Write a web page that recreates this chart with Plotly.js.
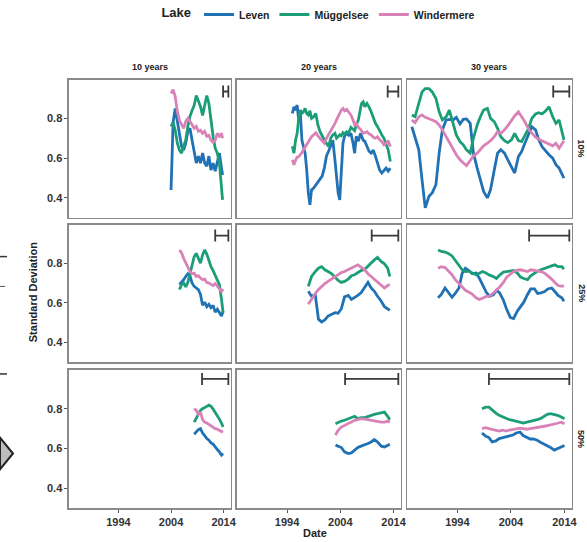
<!DOCTYPE html>
<html>
<head>
<meta charset="utf-8">
<script src="https://cdn.plot.ly/plotly-3.0.1.min.js"></script>
<style>html,body{margin:0;padding:0;background:#fff;}#chart{width:587px;height:542px;}</style>
</head>
<body>
<div id="chart"></div>
<script>
// ---------- DATA ----------
const lakes = ['Leven', 'Müggelsee', 'Windermere'];
const windowLabels = ['10 years', '20 years', '30 years'];
const quantileLabels = ['10%', '25%', '50%'];
const xTickVals = [1994, 2004, 2014];
const yTickVals = [0.4, 0.6, 0.8];
// window length bars (years): rows = quantile, cols = window
const barLength = [[1, 2, 3], [2.5, 5, 7.5], [5, 10, 15]];
const barEnd = 2014.9;
const barLevel = [0.935, 0.94, 0.95];

// Row 10%, 10 years
const date_q10_w10 = [2004.0,2004.4,2004.8,2005.2,2005.6,2006.0,2006.4,2006.8,2007.2,2007.6,2008.0,2008.4,2008.8,2009.2,2009.6,2010.0,2010.4,2010.8,2011.2,2011.6,2012.0,2012.4,2012.8,2013.2,2013.6,2013.8];
const leven_q10_w10 = [0.44,0.78,0.85,0.79,0.71,0.66,0.64,0.675,0.735,0.75,0.69,0.625,0.575,0.61,0.575,0.625,0.575,0.56,0.61,0.54,0.575,0.535,0.59,0.625,0.55,0.515];
const mugg_q10_w10 = [0.76,0.78,0.74,0.675,0.64,0.625,0.66,0.69,0.76,0.81,0.84,0.865,0.915,0.89,0.86,0.815,0.875,0.915,0.875,0.775,0.71,0.65,0.625,0.575,0.475,0.39];
const wind_q10_w10 = [0.925,0.945,0.91,0.835,0.79,0.77,0.75,0.785,0.80,0.785,0.77,0.75,0.76,0.735,0.74,0.725,0.735,0.71,0.715,0.69,0.68,0.69,0.725,0.71,0.725,0.70];

// Row 10%, 20 years
const date_q10_w20 = [1995.0,1995.3,1995.6,1995.9,1996.2,1996.5,1996.8,1997.1,1997.4,1997.7,1998.0,1998.3,1998.6,1999.0,1999.4,1999.8,2000.2,2000.6,2001.0,2001.4,2001.8,2002.2,2002.6,2003.0,2003.3,2003.6,2003.9,2004.2,2004.5,2004.8,2005.2,2005.6,2006.0,2006.4,2006.7,2007.0,2007.4,2007.8,2008.0,2008.3,2008.6,2009.0,2009.4,2009.8,2010.2,2010.6,2011.0,2011.4,2011.8,2012.2,2012.6,2013.0,2013.4];
const leven_q10_w20 = [0.825,0.858,0.842,0.867,0.79,0.825,0.69,0.66,0.625,0.54,0.425,0.365,0.44,0.45,0.465,0.475,0.49,0.51,0.55,0.61,0.635,0.665,0.69,0.59,0.49,0.425,0.39,0.54,0.675,0.71,0.725,0.715,0.725,0.675,0.625,0.71,0.685,0.725,0.71,0.69,0.685,0.66,0.635,0.625,0.64,0.61,0.575,0.54,0.525,0.535,0.55,0.535,0.55];
const mugg_q10_w20 = [0.66,0.625,0.69,0.725,0.80,0.842,0.825,0.833,0.85,0.825,0.817,0.838,0.80,0.808,0.825,0.767,0.733,0.708,0.692,0.675,0.658,0.70,0.717,0.725,0.70,0.708,0.717,0.712,0.728,0.722,0.733,0.728,0.755,0.745,0.738,0.767,0.792,0.85,0.875,0.883,0.858,0.875,0.858,0.833,0.80,0.775,0.758,0.733,0.717,0.70,0.675,0.642,0.583];
const wind_q10_w20 = [0.592,0.567,0.588,0.605,0.608,0.617,0.628,0.642,0.655,0.667,0.675,0.688,0.708,0.717,0.728,0.712,0.70,0.688,0.675,0.70,0.717,0.738,0.758,0.775,0.792,0.808,0.828,0.842,0.85,0.838,0.845,0.833,0.817,0.792,0.767,0.775,0.755,0.745,0.738,0.725,0.728,0.733,0.722,0.717,0.705,0.70,0.708,0.692,0.683,0.667,0.675,0.688,0.658];

// Row 10%, 30 years
const date_q10_w30 = [1985.5,1986.1,1986.8,1987.4,1988.0,1988.7,1989.3,1990.0,1990.6,1991.2,1991.9,1992.5,1993.2,1993.8,1994.5,1995.1,1995.7,1996.4,1997.0,1997.7,1998.3,1998.9,1999.6,2000.2,2000.9,2001.5,2002.1,2002.8,2003.4,2004.1,2004.7,2005.4,2006.0,2006.6,2007.3,2007.9,2008.6,2009.2,2009.8,2010.5,2011.1,2011.8,2012.4,2013.0,2013.9];
const leven_q10_w30 = [0.758,0.708,0.642,0.492,0.35,0.408,0.425,0.467,0.625,0.742,0.792,0.795,0.792,0.805,0.772,0.795,0.797,0.775,0.625,0.55,0.492,0.433,0.40,0.442,0.542,0.625,0.642,0.625,0.592,0.558,0.525,0.608,0.633,0.675,0.725,0.758,0.742,0.692,0.658,0.633,0.617,0.60,0.567,0.55,0.50];
const mugg_q10_w30 = [0.817,0.808,0.875,0.933,0.95,0.95,0.933,0.90,0.833,0.792,0.808,0.842,0.775,0.717,0.683,0.667,0.642,0.625,0.70,0.767,0.808,0.842,0.85,0.80,0.783,0.75,0.708,0.688,0.678,0.692,0.725,0.688,0.683,0.717,0.75,0.80,0.822,0.828,0.822,0.838,0.858,0.808,0.775,0.792,0.692];
const wind_q10_w30 = [0.792,0.778,0.808,0.817,0.805,0.80,0.792,0.783,0.767,0.742,0.708,0.678,0.645,0.617,0.592,0.575,0.562,0.588,0.612,0.625,0.642,0.662,0.675,0.688,0.708,0.733,0.725,0.742,0.762,0.792,0.812,0.833,0.808,0.783,0.745,0.725,0.705,0.695,0.688,0.678,0.672,0.662,0.675,0.65,0.688];

// Row 25%, 10 years
const date_q25_w10 = [2005.6,2006.0,2006.4,2006.8,2007.2,2007.6,2008.0,2008.4,2008.8,2009.2,2009.6,2010.0,2010.4,2010.8,2011.2,2011.6,2012.0,2012.4,2012.8,2013.2,2013.6,2013.9];
const leven_q25_w10 = [0.692,0.703,0.717,0.733,0.747,0.737,0.70,0.683,0.675,0.667,0.642,0.587,0.603,0.58,0.592,0.575,0.587,0.553,0.567,0.547,0.533,0.558];
const mugg_q25_w10 = [0.667,0.692,0.70,0.68,0.703,0.742,0.792,0.833,0.85,0.825,0.80,0.842,0.867,0.847,0.808,0.783,0.763,0.737,0.717,0.692,0.617,0.55];
const wind_q25_w10 = [0.867,0.853,0.825,0.80,0.783,0.758,0.747,0.75,0.733,0.737,0.725,0.717,0.72,0.703,0.70,0.692,0.687,0.697,0.683,0.675,0.658,0.67];

// Row 25%, 20 years
const date_q25_w20 = [1998.0,1998.6,1999.3,1999.9,2000.5,2001.1,2001.7,2002.4,2003.0,2003.6,2004.2,2004.8,2005.5,2006.1,2006.7,2007.3,2007.9,2008.6,2009.2,2009.8,2010.4,2011.0,2011.7,2012.3,2012.9,2013.3];
const leven_q25_w20 = [0.658,0.633,0.642,0.517,0.503,0.513,0.533,0.542,0.55,0.547,0.57,0.63,0.637,0.617,0.625,0.637,0.65,0.68,0.703,0.675,0.658,0.633,0.608,0.58,0.567,0.562];
const mugg_q25_w20 = [0.683,0.733,0.758,0.775,0.783,0.767,0.758,0.747,0.73,0.713,0.703,0.708,0.72,0.737,0.742,0.753,0.763,0.77,0.787,0.803,0.817,0.83,0.808,0.797,0.775,0.733];
const wind_q25_w20 = [0.592,0.62,0.647,0.667,0.683,0.697,0.708,0.72,0.73,0.74,0.753,0.758,0.767,0.775,0.783,0.792,0.78,0.767,0.747,0.733,0.72,0.708,0.692,0.675,0.687,0.692];

// Row 25%, 30 years
const date_q25_w30 = [1990.4,1991.0,1991.7,1992.3,1993.0,1993.6,1994.3,1994.9,1995.5,1996.2,1996.8,1997.5,1998.1,1998.7,1999.4,2000.0,2000.7,2001.3,2001.9,2002.6,2003.2,2003.9,2004.5,2005.2,2005.8,2006.4,2007.1,2007.7,2008.4,2009.0,2009.6,2010.3,2010.9,2011.6,2012.2,2012.8,2013.5,2013.9];
const leven_q25_w30 = [0.625,0.642,0.675,0.653,0.628,0.647,0.675,0.75,0.775,0.762,0.747,0.75,0.725,0.692,0.653,0.633,0.64,0.663,0.65,0.613,0.567,0.525,0.52,0.558,0.58,0.603,0.642,0.67,0.67,0.647,0.65,0.657,0.67,0.675,0.657,0.637,0.625,0.608];
const mugg_q25_w30 = [0.867,0.86,0.857,0.85,0.837,0.813,0.787,0.767,0.758,0.76,0.75,0.742,0.75,0.758,0.75,0.74,0.733,0.723,0.74,0.755,0.758,0.76,0.763,0.75,0.73,0.723,0.717,0.737,0.75,0.76,0.767,0.775,0.783,0.787,0.792,0.783,0.783,0.77];
const wind_q25_w30 = [0.775,0.783,0.778,0.762,0.742,0.717,0.697,0.68,0.663,0.653,0.643,0.625,0.617,0.623,0.632,0.633,0.647,0.663,0.68,0.703,0.73,0.747,0.757,0.765,0.767,0.763,0.758,0.767,0.763,0.758,0.758,0.75,0.737,0.72,0.703,0.687,0.683,0.687];

// Row 50%, 10 years
const date_q50_w10 = [2008.4,2008.8,2009.2,2009.6,2010.0,2010.4,2010.8,2011.2,2011.6,2012.0,2012.4,2012.8,2013.2,2013.6,2013.9];
const leven_q50_w10 = [0.672,0.683,0.695,0.70,0.678,0.665,0.65,0.642,0.628,0.622,0.605,0.595,0.583,0.567,0.575];
const mugg_q50_w10 = [0.733,0.755,0.772,0.792,0.80,0.808,0.812,0.818,0.812,0.798,0.782,0.767,0.748,0.728,0.708];
const wind_q50_w10 = [0.80,0.792,0.772,0.783,0.745,0.733,0.728,0.72,0.712,0.708,0.70,0.698,0.692,0.685,0.688];

// Row 50%, 20 years
const date_q50_w20 = [2003.1,2003.6,2004.2,2004.8,2005.5,2006.1,2006.7,2007.3,2007.9,2008.6,2009.2,2009.8,2010.4,2011.0,2011.7,2012.3,2012.9,2013.3];
const leven_q50_w20 = [0.617,0.612,0.605,0.583,0.575,0.578,0.592,0.605,0.612,0.617,0.625,0.633,0.645,0.633,0.612,0.608,0.617,0.622];
const mugg_q50_w20 = [0.725,0.732,0.738,0.742,0.75,0.755,0.762,0.75,0.755,0.755,0.762,0.767,0.772,0.775,0.778,0.783,0.762,0.745];
const wind_q50_w20 = [0.667,0.692,0.708,0.717,0.725,0.733,0.742,0.745,0.75,0.748,0.745,0.742,0.738,0.738,0.733,0.733,0.738,0.732];

// Row 50%, 30 years
const date_q50_w30 = [1998.6,1999.3,1999.9,2000.5,2001.2,2001.8,2002.5,2003.1,2003.7,2004.4,2005.0,2005.7,2006.3,2007.0,2007.6,2008.2,2008.9,2009.5,2010.2,2010.8,2011.4,2012.1,2012.7,2013.4,2014.0];
const leven_q50_w30 = [0.678,0.662,0.655,0.633,0.638,0.65,0.655,0.658,0.663,0.668,0.678,0.683,0.665,0.655,0.648,0.648,0.642,0.632,0.622,0.615,0.605,0.592,0.598,0.608,0.615];
const mugg_q50_w30 = [0.80,0.808,0.808,0.792,0.778,0.767,0.758,0.75,0.745,0.742,0.738,0.732,0.728,0.733,0.738,0.742,0.745,0.75,0.762,0.772,0.775,0.772,0.767,0.758,0.75];
const wind_q50_w30 = [0.70,0.705,0.70,0.695,0.692,0.688,0.692,0.688,0.693,0.697,0.70,0.702,0.70,0.697,0.70,0.702,0.705,0.708,0.712,0.715,0.72,0.723,0.727,0.732,0.725];

// ---------- STYLE ----------
const lakeColors = ['#2171b5', '#1b9e77', '#d982b8'];
const colDomains = [[0.1175, 0.3935], [0.4037, 0.6831], [0.6934, 0.9744]];
const rowDomains = [[0.6015, 0.8579], [0.3339, 0.5886], [0.0627, 0.3192]];
const xRange = [1984.6, 2015.4];
const yRange = [0.3, 0.995];
const FONT = 'Liberation Sans, Arial, sans-serif';

const panelData = [
  [date_q10_w10, leven_q10_w10, mugg_q10_w10, wind_q10_w10],
  [date_q10_w20, leven_q10_w20, mugg_q10_w20, wind_q10_w20],
  [date_q10_w30, leven_q10_w30, mugg_q10_w30, wind_q10_w30],
  [date_q25_w10, leven_q25_w10, mugg_q25_w10, wind_q25_w10],
  [date_q25_w20, leven_q25_w20, mugg_q25_w20, wind_q25_w20],
  [date_q25_w30, leven_q25_w30, mugg_q25_w30, wind_q25_w30],
  [date_q50_w10, leven_q50_w10, mugg_q50_w10, wind_q50_w10],
  [date_q50_w20, leven_q50_w20, mugg_q50_w20, wind_q50_w20],
  [date_q50_w30, leven_q50_w30, mugg_q50_w30, wind_q50_w30]
];

const traces = [];
const layout = {
  width: 587, height: 542,
  margin: {l: 0, r: 0, t: 0, b: 0},
  paper_bgcolor: '#fff', plot_bgcolor: '#fff',
  font: {family: FONT, color: '#222'},
  showlegend: true,
  legend: {
    orientation: 'h', x: 0.545, xanchor: 'center', y: 1.006, yanchor: 'top',
    font: {family: FONT, size: 10.5, weight: 'bold', color: '#222'},
    title: {text: 'Lake', font: {family: FONT, size: 13, weight: 'bold', color: '#222'}, side: 'left'},
    itemwidth: 30, tracegroupgap: 0
  },
  annotations: [], shapes: []
};

for (let r = 0; r < 3; r++) {
  for (let c = 0; c < 3; c++) {
    const k = r * 3 + c + 1;
    const xa = k === 1 ? 'x' : 'x' + k;
    const ya = k === 1 ? 'y' : 'y' + k;
    const d = panelData[k - 1];
    for (let s = 0; s < 3; s++) {
      traces.push({
        type: 'scatter', mode: 'lines', x: d[0], y: d[s + 1],
        xaxis: xa, yaxis: ya, name: lakes[s], legendgroup: lakes[s],
        showlegend: k === 1,
        line: {color: lakeColors[s], width: 2.8}
      });
    }
    // window length bar
    const L = barLength[r][c];
    traces.push({
      type: 'scatter', mode: 'markers', x: [barEnd - L / 2], y: [barLevel[r]],
      xaxis: xa, yaxis: ya, showlegend: false, hoverinfo: 'skip',
      marker: {size: 1, opacity: 0},
      error_x: {type: 'data', array: [L / 2], symmetric: true, color: '#3a3a3a', thickness: 1.8, width: 6}
    });
    layout['xaxis' + (k === 1 ? '' : k)] = {
      domain: colDomains[c], range: xRange, anchor: ya,
      showgrid: false, zeroline: false,
      showline: true, mirror: true, linecolor: '#8a8a8a', linewidth: 1.5,
      tickvals: xTickVals, ticktext: xTickVals.map(String),
      showticklabels: r === 2, ticks: r === 2 ? 'outside' : '', ticklen: 3, tickcolor: '#555',
      tickfont: {family: FONT, size: 11, weight: 'bold', color: '#333'},
      automargin: false
    };
    layout['yaxis' + (k === 1 ? '' : k)] = {
      domain: rowDomains[r], range: yRange, anchor: xa,
      showgrid: false, zeroline: false,
      showline: true, mirror: true, linecolor: '#8a8a8a', linewidth: 1.5,
      tickvals: yTickVals, ticktext: yTickVals.map(v => v.toFixed(1)),
      showticklabels: c === 0, ticks: c === 0 ? 'outside' : '', ticklen: 3, tickcolor: '#555',
      tickfont: {family: FONT, size: 11, weight: 'bold', color: '#333'},
      automargin: false
    };
  }
}

// column headers
for (let c = 0; c < 3; c++) {
  layout.annotations.push({
    xref: 'paper', yref: 'paper', x: (colDomains[c][0] + colDomains[c][1]) / 2, y: 0.882,
    text: windowLabels[c], showarrow: false, xanchor: 'center', yanchor: 'middle',
    font: {family: FONT, size: 9, weight: 'bold', color: '#222'}
  });
}
// row strip labels
for (let r = 0; r < 3; r++) {
  layout.annotations.push({
    xref: 'paper', yref: 'paper', x: 0.990, y: (rowDomains[r][0] + rowDomains[r][1]) / 2,
    text: quantileLabels[r], showarrow: false, textangle: 90, xanchor: 'center', yanchor: 'middle',
    font: {family: FONT, size: 9, weight: 'bold', color: '#222'}
  });
}
// axis titles
layout.annotations.push({
  xref: 'paper', yref: 'paper', x: 0.056, y: 0.465, text: 'Standard Deviation',
  showarrow: false, textangle: -90, xanchor: 'center', yanchor: 'middle',
  font: {family: FONT, size: 11, weight: 'bold', color: '#222'}
});
layout.annotations.push({
  xref: 'paper', yref: 'paper', x: 0.537, y: 0.016, text: 'Date',
  showarrow: false, xanchor: 'center', yanchor: 'middle',
  font: {family: FONT, size: 11, weight: 'bold', color: '#222'}
});

// cropped fragments at the left edge of the original figure
layout.shapes.push(
  {type: 'line', xref: 'paper', yref: 'paper', x0: 0, x1: 7 / 587, y0: 1 - 255 / 542, y1: 1 - 255 / 542, line: {color: '#333', width: 1.5}},
  {type: 'line', xref: 'paper', yref: 'paper', x0: 0, x1: 5 / 587, y0: 1 - 285 / 542, y1: 1 - 285 / 542, line: {color: '#555', width: 1}},
  {type: 'line', xref: 'paper', yref: 'paper', x0: 0, x1: 7 / 587, y0: 1 - 373 / 542, y1: 1 - 373 / 542, line: {color: '#333', width: 1.5}},
  {type: 'path', xref: 'paper', yref: 'paper',
   path: 'M 0 ' + (1 - 437 / 542) + ' L ' + (13 / 587) + ' ' + (1 - 453 / 542) + ' L 0 ' + (1 - 469 / 542) + ' Z',
   fillcolor: '#bdbdbd', line: {color: '#222', width: 2}}
);

Plotly.newPlot('chart', traces, layout, {staticPlot: true, displayModeBar: false});
</script>
</body>
</html>
